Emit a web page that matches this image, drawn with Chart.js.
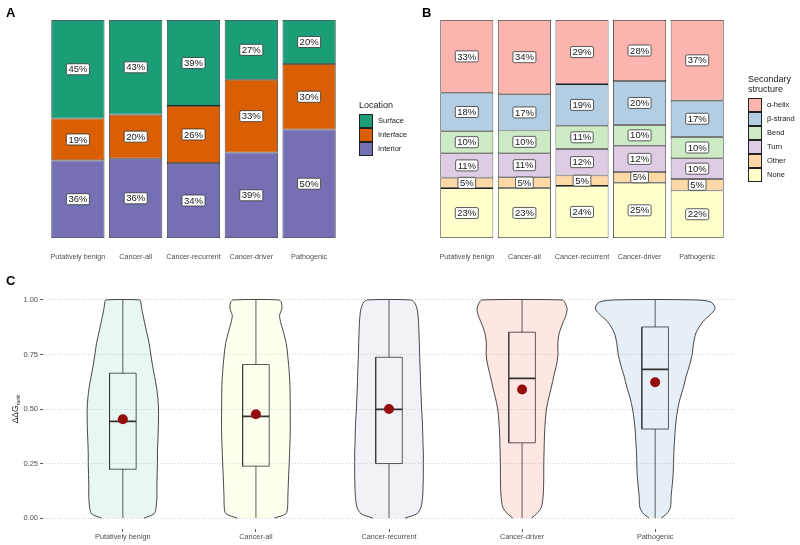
<!DOCTYPE html>
<html>
<head>
<meta charset="utf-8">
<script src="https://cdn.jsdelivr.net/npm/chart.js@4.4.0/dist/chart.umd.min.js"></script>
<style>
  body { margin: 0; background: #fff; }
  #wrap { position: relative; width: 800px; height: 545px; overflow: hidden; }
  #wrap canvas { position: absolute; }
</style>
</head>
<body>
<div id="wrap">
  <canvas id="chartB" width="400" height="265" style="left:400px;top:0;width:400px;height:265px"></canvas>
  <canvas id="chartA" width="425" height="265" style="left:0;top:0;width:425px;height:265px"></canvas>
  <canvas id="chartC" width="800" height="280" style="left:0;top:265px;width:800px;height:280px"></canvas>
</div>
<script>
const FONT = '"Liberation Sans", Arial, sans-serif';
Chart.defaults.font.family = FONT;

const categories = ['Putatively benign', 'Cancer-all', 'Cancer-recurrent', 'Cancer-driver', 'Pathogenic'];

// Panel A: location of variants (% per group)
const locationLabels = ['Surface', 'Interface', 'Interior'];
const locationColors = ['#1b9e77', '#d95f02', '#7570b3'];
const surfacePct = [45.2, 43.4, 39.4, 27.4, 20.2];
const interfacePct = [19.2, 20.2, 26.2, 33.4, 30.0];
const interiorPct = [35.6, 36.4, 34.4, 39.2, 49.8];

// Panel B: secondary structure (% per group)
const ssLabels = ['α-helix', 'β-strand', 'Bend', 'Turn', 'Other', 'None'];
const ssColors = ['#fbb4ae', '#b3cde3', '#ccebc5', '#decbe4', '#fed9a6', '#ffffcc'];
const helixPct = [33.4, 34.1, 29.4, 28.0, 37.0];
const strandPct = [17.6, 16.6, 19.1, 20.1, 16.6];
const bendPct = [10.1, 10.4, 10.6, 9.6, 9.8];
const turnPct = [11.2, 11.0, 12.2, 12.0, 9.6];
const otherPct = [4.8, 4.9, 4.8, 4.9, 5.2];
const nonePct = [22.9, 23.0, 23.9, 25.4, 21.8];

// Panel C: ddG rank distributions
const yTicks = [0, 0.25, 0.5, 0.75, 1];
const violinColors = ['rgba(141,211,199,0.2)', 'rgba(255,255,179,0.2)', 'rgba(190,186,218,0.2)', 'rgba(251,128,114,0.2)', 'rgba(128,177,211,0.2)'];
const ddgLevels = [0, 0.02, 0.05, 0.1, 0.15, 0.2, 0.25, 0.3, 0.35, 0.4, 0.45, 0.5, 0.55, 0.6, 0.65, 0.7, 0.75, 0.8, 0.85, 0.9, 0.93, 0.96, 0.99, 1.0];
// half-widths of each violin at ddgLevels (in category units)
const violinBenign = [0.16, 0.235, 0.25, 0.256, 0.256, 0.258, 0.26, 0.26, 0.263, 0.266, 0.268, 0.268, 0.263, 0.253, 0.238, 0.223, 0.21, 0.198, 0.18, 0.162, 0.152, 0.142, 0.135, 0.128];
const violinCancerAll = [0.14, 0.225, 0.238, 0.24, 0.243, 0.246, 0.25, 0.253, 0.256, 0.258, 0.258, 0.258, 0.257, 0.256, 0.252, 0.246, 0.238, 0.228, 0.208, 0.185, 0.178, 0.195, 0.19, 0.17];
const violinRecurrent = [0.12, 0.21, 0.24, 0.253, 0.256, 0.258, 0.258, 0.258, 0.255, 0.253, 0.25, 0.245, 0.242, 0.238, 0.236, 0.233, 0.23, 0.228, 0.225, 0.222, 0.218, 0.21, 0.19, 0.16];
const violinDriver = [0.07, 0.11, 0.145, 0.158, 0.162, 0.163, 0.163, 0.165, 0.167, 0.17, 0.175, 0.183, 0.2, 0.22, 0.238, 0.258, 0.27, 0.268, 0.28, 0.31, 0.33, 0.338, 0.32, 0.3];
const violinPathogenic = [0.045, 0.088, 0.115, 0.12, 0.128, 0.135, 0.138, 0.14, 0.145, 0.15, 0.158, 0.17, 0.188, 0.213, 0.233, 0.258, 0.278, 0.288, 0.308, 0.358, 0.41, 0.45, 0.42, 0.29];
const boxQ1 = [0.224, 0.238, 0.250, 0.345, 0.408];
const boxMedian = [0.443, 0.466, 0.498, 0.640, 0.682];
const boxQ3 = [0.664, 0.704, 0.737, 0.852, 0.876];
const whiskerLow = [0, 0, 0, 0, 0];
const whiskerHigh = [1, 1, 1, 1, 1];
const meanValues = [0.453, 0.476, 0.500, 0.589, 0.623];

const TICK_COLOR = '#4d4d4d';

// panel letter
function drawTag(chart, letter, x, y) {
    const ctx = chart.ctx;
    ctx.save();
    ctx.font = 'bold 13px ' + FONT;
    ctx.fillStyle = '#000';
    ctx.textBaseline = 'alphabetic';
    ctx.fillText(letter, x, y);
    ctx.restore();
}

function boxPath(ctx, x, y, w, h, r) {
    ctx.beginPath();
    ctx.moveTo(x + r, y);
    ctx.lineTo(x + w - r, y);
    ctx.quadraticCurveTo(x + w, y, x + w, y + r);
    ctx.lineTo(x + w, y + h - r);
    ctx.quadraticCurveTo(x + w, y + h, x + w - r, y + h);
    ctx.lineTo(x + r, y + h);
    ctx.quadraticCurveTo(x, y + h, x, y + h - r);
    ctx.lineTo(x, y + r);
    ctx.quadraticCurveTo(x, y, x + r, y);
    ctx.closePath();
}

// white percent labels in the middle of each stacked segment
const pctLabels = {
    id: 'pctLabels',
    afterDatasetsDraw(chart) {
        const ctx = chart.ctx;
        ctx.save();
        ctx.font = '9.5px ' + FONT;
        ctx.textAlign = 'center';
        ctx.textBaseline = 'middle';
        chart.data.datasets.forEach((ds, di) => {
            chart.getDatasetMeta(di).data.forEach((bar, i) => {
                const text = Math.round(ds.data[i]) + '%';
                const cy = (bar.y + bar.base) / 2;
                const w = ctx.measureText(text).width + 4;
                const h = 11;
                boxPath(ctx, bar.x - w / 2, cy - h / 2, w, h, 1.5);
                ctx.fillStyle = '#fff';
                ctx.fill();
                ctx.lineWidth = 0.8;
                ctx.strokeStyle = '#333';
                ctx.stroke();
                ctx.fillStyle = '#1a1a1a';
                ctx.fillText(text, bar.x, cy + 0.5);
            });
        });
        ctx.restore();
    }
};

// legend drawn to the right of the stacked bars
function legendPlugin(id, tag, titleLines, labels, colors, x, titleY, swatchTop) {
    return {
        id: id,
        afterDraw(chart) {
            const ctx = chart.ctx;
            drawTag(chart, tag.letter, tag.x, tag.y);
            ctx.save();
            ctx.fillStyle = '#1a1a1a';
            ctx.textBaseline = 'middle';
            ctx.font = '9px ' + FONT;
            titleLines.forEach((t, k) => ctx.fillText(t, x, titleY + k * 9.5));
            ctx.font = '7.5px ' + FONT;
            labels.forEach((lab, k) => {
                const y = swatchTop + k * 14;
                ctx.fillStyle = colors[k];
                ctx.fillRect(x + 0.5, y + 0.5, 13, 13);
                ctx.lineWidth = 1;
                ctx.strokeStyle = '#222';
                ctx.strokeRect(x + 0.5, y + 0.5, 13, 13);
                ctx.fillStyle = '#1a1a1a';
                ctx.fillText(lab, x + 19, y + 7);
            });
            ctx.restore();
        }
    };
}

function stackedConfig(labels, colors, series, padLeft, padRight, legend) {
    const datasets = labels.map((lab, k) => ({
        label: lab,
        data: series[k],
        backgroundColor: colors[k],
        borderColor: '#222',
        borderWidth: 0.8,
        borderSkipped: false,
        barPercentage: 0.92,
        categoryPercentage: 1
    })).reverse();
    return {
        type: 'bar',
        data: { labels: categories, datasets: datasets },
        options: {
            responsive: false,
            animation: false,
            events: [],
            layout: { padding: { left: padLeft, right: padRight, top: 20, bottom: 0 } },
            plugins: { legend: { display: false }, tooltip: { enabled: false } },
            scales: {
                x: {
                    stacked: true,
                    grid: { display: false, drawTicks: false },
                    border: { display: false },
                    ticks: { padding: 15, color: TICK_COLOR, font: { size: 7.2 }, maxRotation: 0, autoSkip: false },
                    afterFit: (s) => { s.height = 27; }
                },
                y: { stacked: true, display: false, min: 0, max: 100 }
            }
        },
        plugins: [pctLabels, legend]
    };
}

new Chart(document.getElementById('chartA'), stackedConfig(
    locationLabels, locationColors, [surfacePct, interfacePct, interiorPct], 49, 87,
    legendPlugin('legendA', { letter: 'A', x: 6, y: 17 }, ['Location'], locationLabels, locationColors, 359, 106, 114)
));

new Chart(document.getElementById('chartB'), stackedConfig(
    ssLabels, ssColors, [helixPct, strandPct, bendPct, turnPct, otherPct, nonePct], 38, 74,
    legendPlugin('legendB', { letter: 'B', x: 22, y: 17 }, ['Secondary', 'structure'], ssLabels, ssColors, 348, 80, 98)
));

// ---- Panel C: violins with box plots ----
const violinShapes = [violinBenign, violinCancerAll, violinRecurrent, violinDriver, violinPathogenic];
const BOX_HALF = 0.1;

const violinDatasets = violinShapes.map((hw, i) => {
    const c = i + 1;
    const pts = ddgLevels.map((v, k) => ({ x: c - hw[k], y: v }));
    for (let k = ddgLevels.length - 1; k >= 0; k--) pts.push({ x: c + hw[k], y: ddgLevels[k] });
    return {
        label: categories[i],
        data: pts,
        fill: 'shape',
        backgroundColor: violinColors[i],
        borderColor: '#333',
        borderWidth: 0.9,
        pointRadius: 0,
        tension: 0.3,
        order: 5
    };
});

const whiskerPts = [];
const boxPts = [];
const medianPts = [];
categories.forEach((cat, i) => {
    const c = i + 1;
    whiskerPts.push({ x: c, y: whiskerLow[i] }, { x: c, y: boxQ1[i] }, { x: c, y: null },
                    { x: c, y: boxQ3[i] }, { x: c, y: whiskerHigh[i] }, { x: c, y: null });
    boxPts.push({ x: c - BOX_HALF, y: boxQ1[i] }, { x: c + BOX_HALF, y: boxQ1[i] },
                { x: c + BOX_HALF, y: boxQ3[i] }, { x: c - BOX_HALF, y: boxQ3[i] },
                { x: c - BOX_HALF, y: boxQ1[i] }, { x: c, y: null });
    medianPts.push({ x: c - BOX_HALF, y: boxMedian[i] }, { x: c + BOX_HALF, y: boxMedian[i] }, { x: c, y: null });
});

const lineStyle = { fill: false, pointRadius: 0, tension: 0, borderColor: '#333', spanGaps: false };

const yTitle = {
    id: 'yTitle',
    afterDraw(chart) {
        const ctx = chart.ctx;
        drawTag(chart, 'C', 6, 20);
        const cy = chart.scales.y.getPixelForValue(0.5);
        ctx.save();
        ctx.translate(15, cy);
        ctx.rotate(-Math.PI / 2);
        ctx.fillStyle = '#1a1a1a';
        ctx.textBaseline = 'alphabetic';
        ctx.font = '8.5px ' + FONT;
        const main = 'ΔΔG';
        const wMain = ctx.measureText(main).width;
        ctx.font = '5.5px ' + FONT;
        const wSub = ctx.measureText('rank').width;
        const x0 = -(wMain + wSub) / 2;
        ctx.font = '8.5px ' + FONT;
        ctx.fillText(main, x0, 3);
        ctx.font = '5.5px ' + FONT;
        ctx.fillText('rank', x0 + wMain, 5);
        ctx.restore();
    }
};

new Chart(document.getElementById('chartC'), {
    type: 'line',
    data: {
        datasets: [
            { label: 'Mean', data: meanValues.map((m, i) => ({ x: i + 1, y: m })), showLine: false,
              pointRadius: 5, pointBackgroundColor: '#940c0c', pointBorderWidth: 0, order: 1 },
            Object.assign({ label: 'Median', data: medianPts, borderWidth: 1.8, order: 2 }, lineStyle),
            Object.assign({ label: 'Box', data: boxPts, borderWidth: 0.8, order: 3 }, lineStyle),
            Object.assign({ label: 'Whisker', data: whiskerPts, borderWidth: 0.8, order: 4 }, lineStyle)
        ].concat(violinDatasets)
    },
    options: {
        responsive: false,
        animation: false,
        events: [],
        layout: { padding: { left: 0, right: 65, top: 24, bottom: 0 } },
        plugins: { legend: { display: false }, tooltip: { enabled: false } },
        scales: {
            x: {
                type: 'linear',
                min: 0.4,
                max: 5.6,
                afterBuildTicks: (s) => { s.ticks = categories.map((_, i) => ({ value: i + 1 })); },
                ticks: { callback: (v) => categories[v - 1], color: TICK_COLOR, font: { size: 7.3 }, padding: 1, maxRotation: 0, autoSkip: false },
                grid: { drawOnChartArea: false, drawTicks: true, tickLength: 3, tickColor: '#333', tickWidth: 0.8 },
                border: { display: false },
                afterFit: (s) => { s.height = 16; }
            },
            y: {
                min: -0.05,
                max: 1.05,
                afterBuildTicks: (s) => { s.ticks = yTicks.map((v) => ({ value: v })); },
                ticks: { callback: (v) => v.toFixed(2), color: TICK_COLOR, font: { size: 7.5 }, padding: 2 },
                grid: { color: '#c4c4c4', lineWidth: 0.8, drawTicks: true, tickLength: 3, tickColor: '#333', tickWidth: 0.8, tickBorderDash: [] },
                border: { display: false, dash: [1, 2] },
                afterFit: (s) => { s.width = 43; }
            }
        }
    },
    plugins: [yTitle]
});
</script>
</body>
</html>
